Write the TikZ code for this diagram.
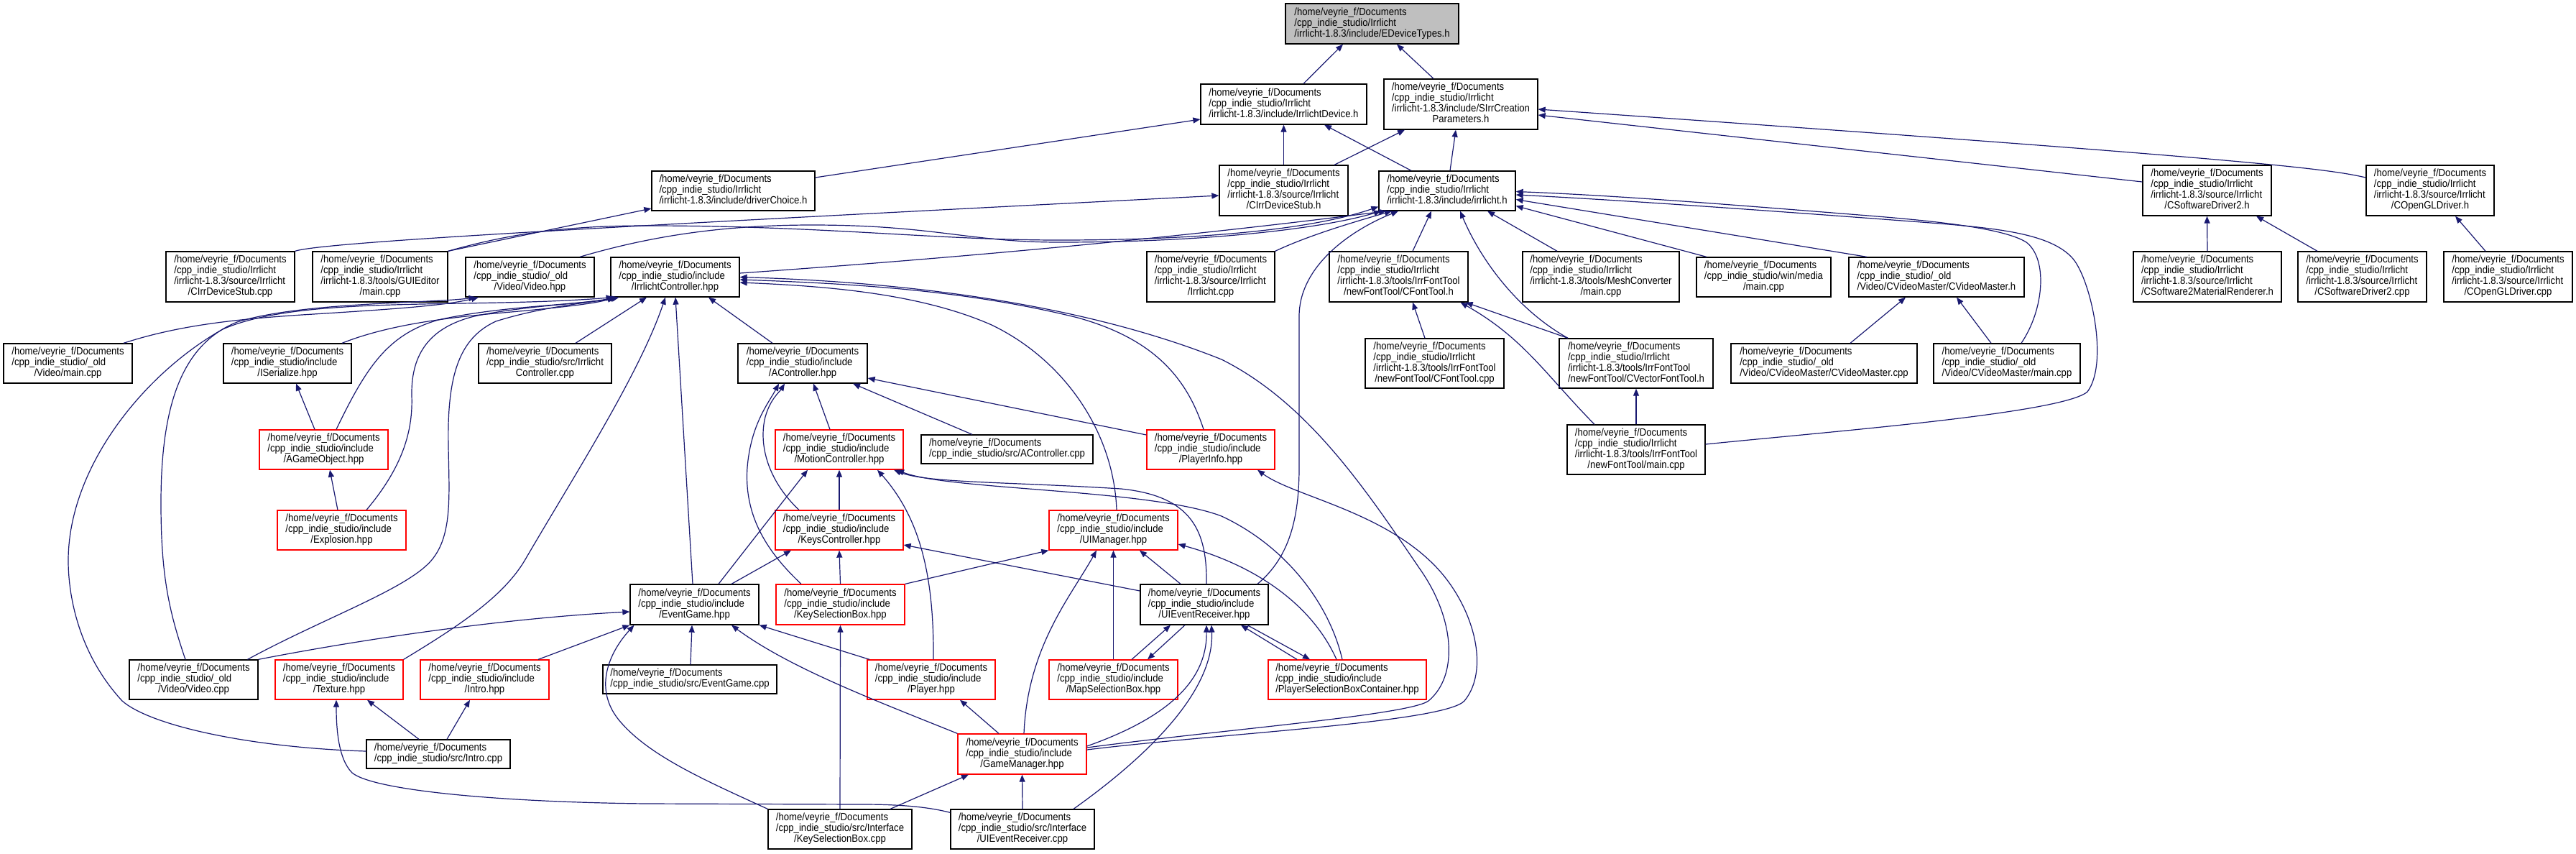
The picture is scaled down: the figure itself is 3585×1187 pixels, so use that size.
\documentclass[tikz,border=0pt]{standalone}
\usepackage{fontspec}
\newfontfamily\nodefont[FakeStretch=0.9]{Liberation Sans}
\usetikzlibrary{arrows.meta}
\definecolor{edgeblue}{RGB}{25,25,112}
\definecolor{boxgray}{RGB}{191,191,191}
\definecolor{boxred}{RGB}{255,0,0}
\newcommand\lnA{/home/veyrie\_f/Documents}
\newcommand\lnB{/cpp\_indie\_studio/Irrlicht}
\newcommand\lnC{/cpp\_indie\_studio/include}
\newcommand\lnD{/cpp\_indie\_studio/\_old}
\newcommand\Lt[1]{\begin{tabular}{@{}l@{}}#1\end{tabular}}
\newcommand\Lc[1]{\multicolumn{1}{@{}c@{}}{#1}}
\tikzset{
  fbox/.style={draw=black, line width=1.3pt, fill=white, inner sep=0pt, text=black, font=\nodefont\fontsize{14.6}{14.7}\selectfont},
  rbox/.style={fbox, draw=boxred},
  gbox/.style={fbox, fill=boxgray},
  sz/.style 2 args={minimum width=#1pt, minimum height=#2pt},
  edge/.style={draw=edgeblue, line width=1.2pt, -{Triangle[length=10pt,width=8pt]}},
}
\begin{document}
\begin{tikzpicture}[x=1pt,y=-1pt]
\useasboundingbox (0,0) rectangle (3585,1187);
% row 1-2
\node[gbox,sz={241}{56}] (n0) at (1909.5,33) {\Lt{\lnA\\\lnB\\/irrlicht-1.8.3/include/EDeviceTypes.h}};
\node[fbox,sz={231}{56}] (n1) at (1786.5,145) {\Lt{\lnA\\\lnB\\/irrlicht-1.8.3/include/IrrlichtDevice.h}};
\node[fbox,sz={214}{70}] (n2) at (2033,145) {\Lt{\lnA\\\lnB\\/irrlicht-1.8.3/include/SIrrCreation\\\Lc{Parameters.h}}};
% row 3
\node[fbox,sz={227}{55}] (n3) at (1020.5,265.5) {\Lt{\lnA\\\lnB\\/irrlicht-1.8.3/include/driverChoice.h}};
\node[fbox,sz={179}{70}] (n4) at (1786.5,265) {\Lt{\lnA\\\lnB\\/irrlicht-1.8.3/source/Irrlicht\\\Lc{/CIrrDeviceStub.h}}};
\node[fbox,sz={190}{55}] (n5) at (2014,265.5) {\Lt{\lnA\\\lnB\\/irrlicht-1.8.3/include/irrlicht.h}};
\node[fbox,sz={179}{70}] (n6) at (3071.5,265) {\Lt{\lnA\\\lnB\\/irrlicht-1.8.3/source/Irrlicht\\\Lc{/CSoftwareDriver2.h}}};
\node[fbox,sz={178}{70}] (n7) at (3382,265) {\Lt{\lnA\\\lnB\\/irrlicht-1.8.3/source/Irrlicht\\\Lc{/COpenGLDriver.h}}};
% row 4
\node[fbox,sz={179}{70}] (n8) at (320.5,385) {\Lt{\lnA\\\lnB\\/irrlicht-1.8.3/source/Irrlicht\\\Lc{/CIrrDeviceStub.cpp}}};
\node[fbox,sz={188}{70}] (n9) at (529,385) {\Lt{\lnA\\\lnB\\/irrlicht-1.8.3/tools/GUIEditor\\\Lc{/main.cpp}}};
\node[fbox,sz={179}{55}] (n10) at (737.5,385.5) {\Lt{\lnA\\\lnD\\\Lc{/Video/Video.hpp}}};
\node[fbox,sz={179}{55}] (n11) at (939.5,385.5) {\Lt{\lnA\\\lnC\\\Lc{/IrrlichtController.hpp}}};
\node[fbox,sz={178}{70}] (n12) at (1685,385) {\Lt{\lnA\\\lnB\\/irrlicht-1.8.3/source/Irrlicht\\\Lc{/Irrlicht.cpp}}};
\node[fbox,sz={193}{70}] (n13) at (1946.5,385) {\Lt{\lnA\\\lnB\\/irrlicht-1.8.3/tools/IrrFontTool\\\Lc{/newFontTool/CFontTool.h}}};
\node[fbox,sz={218}{70}] (n14) at (2228,385) {\Lt{\lnA\\\lnB\\/irrlicht-1.8.3/tools/MeshConverter\\\Lc{/main.cpp}}};
\node[fbox,sz={187}{55}] (n15) at (2454.5,385.5) {\Lt{\lnA\\/cpp\_indie\_studio/win/media\\\Lc{/main.cpp}}};
\node[fbox,sz={244}{55}] (n16) at (2695,385.5) {\Lt{\lnA\\\lnD\\/Video/CVideoMaster/CVideoMaster.h}};
\node[fbox,sz={206}{70}] (n17) at (3072,385) {\Lt{\lnA\\\lnB\\/irrlicht-1.8.3/source/Irrlicht\\\Lc{/CSoftware2MaterialRenderer.h}}};
\node[fbox,sz={179}{70}] (n18) at (3287.5,385) {\Lt{\lnA\\\lnB\\/irrlicht-1.8.3/source/Irrlicht\\\Lc{/CSoftwareDriver2.cpp}}};
\node[fbox,sz={179}{70}] (n19) at (3490.5,385) {\Lt{\lnA\\\lnB\\/irrlicht-1.8.3/source/Irrlicht\\\Lc{/COpenGLDriver.cpp}}};
% row 5
\node[fbox,sz={179}{55}] (n20) at (94.5,505.5) {\Lt{\lnA\\\lnD\\\Lc{/Video/main.cpp}}};
\node[fbox,sz={178}{55}] (n21) at (400,505.5) {\Lt{\lnA\\\lnC\\\Lc{/ISerialize.hpp}}};
\node[fbox,sz={185}{55}] (n22) at (758.5,505.5) {\Lt{\lnA\\/cpp\_indie\_studio/src/Irrlicht\\\Lc{Controller.cpp}}};
\node[fbox,sz={180}{55}] (n23) at (1117,505.5) {\Lt{\lnA\\\lnC\\\Lc{/AController.hpp}}};
\node[fbox,sz={193}{69}] (n24) at (1996.5,505.5) {\Lt{\lnA\\\lnB\\/irrlicht-1.8.3/tools/IrrFontTool\\\Lc{/newFontTool/CFontTool.cpp}}};
\node[fbox,sz={214}{69}] (n25) at (2277,505.5) {\Lt{\lnA\\\lnB\\/irrlicht-1.8.3/tools/IrrFontTool\\/newFontTool/CVectorFontTool.h}};
\node[fbox,sz={259}{55}] (n26) at (2538.5,505.5) {\Lt{\lnA\\\lnD\\/Video/CVideoMaster/CVideoMaster.cpp}};
\node[fbox,sz={204}{55}] (n27) at (2793,505.5) {\Lt{\lnA\\\lnD\\/Video/CVideoMaster/main.cpp}};
% row 6
\node[rbox,sz={179}{55}] (n28) at (450.5,625.5) {\Lt{\lnA\\\lnC\\\Lc{/AGameObject.hpp}}};
\node[rbox,sz={178}{55}] (n29) at (1168,625.5) {\Lt{\lnA\\\lnC\\\Lc{/MotionController.hpp}}};
\node[fbox,sz={239}{40}] (n30) at (1401.5,625) {\Lt{\lnA\\/cpp\_indie\_studio/src/AController.cpp}};
\node[rbox,sz={178}{55}] (n31) at (1685,625.5) {\Lt{\lnA\\\lnC\\\Lc{/PlayerInfo.hpp}}};
\node[fbox,sz={192}{69}] (n32) at (2277,625.5) {\Lt{\lnA\\\lnB\\/irrlicht-1.8.3/tools/IrrFontTool\\\Lc{/newFontTool/main.cpp}}};
% row 7
\node[rbox,sz={179}{55}] (n33) at (475.5,737.5) {\Lt{\lnA\\\lnC\\\Lc{/Explosion.hpp}}};
\node[rbox,sz={178}{55}] (n34) at (1168,737.5) {\Lt{\lnA\\\lnC\\\Lc{/KeysController.hpp}}};
\node[rbox,sz={179}{55}] (n35) at (1549.5,737.5) {\Lt{\lnA\\\lnC\\\Lc{/UIManager.hpp}}};
% row 8
\node[fbox,sz={179}{56}] (n36) at (966.5,841) {\Lt{\lnA\\\lnC\\\Lc{/EventGame.hpp}}};
\node[rbox,sz={179}{56}] (n37) at (1169.5,841) {\Lt{\lnA\\\lnC\\\Lc{/KeySelectionBox.hpp}}};
\node[fbox,sz={178}{56}] (n38) at (1676,841) {\Lt{\lnA\\\lnC\\\Lc{/UIEventReceiver.hpp}}};
% row 9
\node[fbox,sz={179}{55}] (n39) at (269.5,945.5) {\Lt{\lnA\\\lnD\\\Lc{/Video/Video.cpp}}};
\node[rbox,sz={178}{55}] (n40) at (472,945.5) {\Lt{\lnA\\\lnC\\\Lc{/Texture.hpp}}};
\node[rbox,sz={179}{55}] (n41) at (674.5,945.5) {\Lt{\lnA\\\lnC\\\Lc{/Intro.hpp}}};
\node[fbox,sz={242}{40}] (n42) at (960,945) {\Lt{\lnA\\/cpp\_indie\_studio/src/EventGame.cpp}};
\node[rbox,sz={178}{55}] (n43) at (1296,945.5) {\Lt{\lnA\\\lnC\\\Lc{/Player.hpp}}};
\node[rbox,sz={179}{55}] (n44) at (1549.5,945.5) {\Lt{\lnA\\\lnC\\\Lc{/MapSelectionBox.hpp}}};
\node[rbox,sz={220}{55}] (n45) at (1875,945.5) {\Lt{\lnA\\\lnC\\/PlayerSelectionBoxContainer.hpp}};
% row 10-11
\node[fbox,sz={200}{40}] (n46) at (610,1049) {\Lt{\lnA\\/cpp\_indie\_studio/src/Intro.cpp}};
\node[rbox,sz={179}{56}] (n47) at (1422.5,1049) {\Lt{\lnA\\\lnC\\\Lc{/GameManager.hpp}}};
\node[fbox,sz={200}{55}] (n48) at (1169,1153.5) {\Lt{\lnA\\/cpp\_indie\_studio/src/Interface\\\Lc{/KeySelectionBox.cpp}}};
\node[fbox,sz={200}{55}] (n49) at (1423,1153.5) {\Lt{\lnA\\/cpp\_indie\_studio/src/Interface\\\Lc{/UIEventReceiver.cpp}}};

% ---------------- edges (arrow at included file)
\draw[edge] ([xshift=27.5pt]n1.north) -- ([xshift=-40.5pt]n0.south);
\draw[edge] ([xshift=-38pt]n2.north) -- ([xshift=34.5pt]n0.south);
\draw[edge] ([yshift=18.5pt]n3.east) -- ([yshift=-21pt]n1.west);
\draw[edge] (n4.north) -- (n1.south);
\draw[edge] ([xshift=-50pt]n5.north) -- ([xshift=56.5pt]n1.south);
\draw[edge] ([xshift=70.5pt]n4.north) -- ([xshift=-78pt]n2.south);
\draw[edge] ([xshift=4pt]n5.north) -- ([xshift=-7pt]n2.south);
\draw[edge] ([yshift=12pt]n6.west) -- ([yshift=-15pt]n2.east);
\draw[edge] ([yshift=18pt]n7.west) .. controls (3240,235) and (3150,222) .. ([yshift=-7pt]n2.east);
\draw[edge] (n8.north east) .. controls (450,336) and (900,313) .. ([yshift=-7pt]n4.west);
\draw[edge] (n9.north east) -- ([yshift=-24.5pt]n3.west);
\draw[edge] (n9.north east) .. controls (720,322) and (800,314) .. (900,314) .. controls (1150,314) and (1300,334) .. (1474,334) .. controls (1680,334) and (1830,318) .. ([yshift=-22pt]n5.west);
\draw[edge] ([xshift=69.5pt]n10.north) .. controls (900,330) and (1000,313) .. (1130,313) .. controls (1300,313) and (1350,337) .. (1474,337) .. controls (1680,337) and (1840,318) .. ([xshift=-92pt]n5.south);
\draw[edge] ([yshift=5.5pt]n11.east) .. controls (1200,368) and (1550,342) .. ([xshift=-85pt]n5.south);
\draw[edge] (n12.north east) .. controls (1820,328) and (1880,310) .. ([xshift=-77pt]n5.south);
\draw[edge] ([xshift=74pt]n38.north) .. controls (1795,775) and (1808,720) .. (1808,650) -- (1808,440) .. controls (1808,370) and (1880,320) .. ([xshift=-68pt]n5.south);
\draw[edge] ([xshift=19.5pt]n13.north) -- ([xshift=-22pt]n5.south);
\draw[edge] ([xshift=-61pt]n14.north) -- ([xshift=56pt]n5.south);
\draw[edge] ([xshift=-95pt]n25.north) .. controls (2110,430) and (2060,360) .. ([xshift=18pt]n5.south);
\draw[edge] ([xshift=-79.5pt]n15.north) -- ([yshift=-21pt]n5.east);
\draw[edge] ([xshift=-97pt]n16.north) -- ([yshift=-12pt]n5.east);
\draw[edge] ([xshift=20pt]n27.north) .. controls (2845,430) and (2850,360) .. (2820,337) .. controls (2790,318) and (2700,308) .. (2600,300) .. controls (2400,284) and (2250,272) .. ([yshift=-1pt]n5.east);
\draw[edge] ([yshift=7.5pt]n32.east) .. controls (2550,600) and (2870,575) .. (2905,545) .. controls (2935,505) and (2910,390) .. (2885,360) .. controls (2855,325) and (2780,318) .. (2700,311) .. controls (2450,292) and (2250,278) .. ([yshift=-5.5pt]n5.east);
\draw[edge] (n17.north) -- (n6.south);
\draw[edge] ([xshift=-62.5pt]n18.north) -- ([xshift=68.5pt]n6.south);
\draw[edge] ([xshift=-31.5pt]n19.north) -- ([xshift=35pt]n7.south);
\draw[edge] ([xshift=-13.5pt]n24.north) -- ([xshift=19.5pt]n13.south);
\draw[edge] ([xshift=-95pt]n25.north) -- ([xshift=-4pt]n13.south east);
\draw[edge] ([xshift=-58pt]n32.north) .. controls (2150,520) and (2120,470) .. ([xshift=86pt]n13.south);
\draw[edge] (n32.north) -- (n25.south);
\draw[edge] ([xshift=36.5pt]n26.north) -- ([xshift=-43pt]n16.south);
\draw[edge] ([xshift=-22pt]n27.north) -- ([xshift=28pt]n16.south);
\draw[edge] ([xshift=77.5pt]n20.north) .. controls (250,452) and (330,444) .. (420,438) .. controls (550,430) and (620,425) .. ([xshift=-71.5pt]n10.south);
\draw[edge] ([xshift=76pt]n21.north) .. controls (540,452) and (620,442) .. (700,435) .. controls (780,428) and (830,422) .. ([xshift=-84.5pt]n11.south);
\draw[edge] ([xshift=42.5pt]n22.north) -- ([xshift=-39.5pt]n11.south);
\draw[edge] ([xshift=-12.5pt]n28.north) -- ([xshift=12pt]n21.south);
\draw[edge] ([xshift=17.5pt]n28.north) .. controls (510,510) and (540,465) .. (610,445) .. controls (700,425) and (800,425) .. ([xshift=-82pt]n11.south);
\draw[edge] ([xshift=-5.5pt]n33.north) -- ([xshift=8.5pt]n28.south);
\draw[edge] ([xshift=34.5pt]n33.north) .. controls (560,650) and (575,600) .. (573,550) .. controls (572,490) and (600,455) .. (660,440) .. controls (730,425) and (820,422) .. ([xshift=-80pt]n11.south);
\draw[edge] ([xshift=75pt]n39.north) .. controls (450,860) and (565,820) .. (600,780) .. controls (630,745) and (625,690) .. (624,620) .. controls (622,520) and (640,470) .. (690,447) .. controls (760,425) and (830,420) .. ([xshift=-78pt]n11.south);
\draw[edge] ([xshift=-11.5pt]n39.north) .. controls (235,850) and (224,800) .. (224,700) .. controls (224,570) and (250,480) .. (330,448) .. controls (420,420) and (600,422) .. ([xshift=-75pt]n10.south);
\draw[edge] ([yshift=4pt]n46.west) .. controls (350,1040) and (210,1010) .. (170,975) .. controls (110,910) and (95,830) .. (95,780) .. controls (95,650) and (200,520) .. (310,458) .. controls (420,410) and (650,430) .. ([xshift=-86pt]n11.south);
\draw[edge] (n39.north east) .. controls (500,890) and (700,860) .. ([yshift=-10pt]n36.west);
\draw[edge] ([xshift=74.5pt]n41.north) -- (n36.south west);
\draw[edge] (n48.north west) .. controls (980,1085) and (900,1050) .. (860,1000) .. controls (825,955) and (850,905) .. ([xshift=-84pt]n36.south);
\draw[edge] (n40.north east) .. controls (640,870) and (700,830) .. (730,780) .. controls (800,660) and (890,520) .. ([xshift=-13.5pt]n11.south);
\draw[edge] ([xshift=-2.5pt]n36.north) -- ([xshift=0.5pt]n11.south);
\draw[edge] ([xshift=-42pt]n23.north) -- ([xshift=46.5pt]n11.south);
\draw[edge] ([xshift=-13pt]n29.north) -- ([xshift=15pt]n23.south);
\draw[edge] ([xshift=-48.5pt]n30.north) -- ([xshift=70pt]n23.south);
\draw[edge] ([yshift=20.5pt]n31.west) -- ([yshift=-20.5pt]n23.east);
\draw[edge] ([xshift=-56pt]n34.north) .. controls (1070,670) and (1055,620) .. (1065,580) .. controls (1072,555) and (1085,545) .. ([xshift=-25pt]n23.south);
\draw[edge] ([xshift=-54.5pt]n37.north) .. controls (1070,770) and (1035,720) .. (1040,650) .. controls (1045,590) and (1070,560) .. ([xshift=-33pt]n23.south);
\draw[edge] ([xshift=33.5pt]n36.north) -- ([xshift=-44pt]n29.south);
\draw[edge] ([xshift=51.5pt]n36.north) -- ([xshift=-67pt]n34.south);
\draw[edge] (n37.north) -- (n34.south);
\draw[edge] (n34.north) -- (n29.south);
\draw[edge] ([xshift=3pt]n43.north) .. controls (1300,800) and (1280,720) .. ([xshift=53pt]n29.south);
\draw[edge] ([xshift=3pt]n38.north) .. controls (1680,740) and (1660,690) .. (1560,680) .. controls (1400,670) and (1290,672) .. ([xshift=76pt]n29.south);
\draw[edge] ([xshift=-7pt]n45.north) .. controls (1850,840) and (1790,760) .. (1700,718) .. controls (1600,680) and (1320,682) .. ([xshift=80pt]n29.south);
\draw[edge] ([xshift=4.5pt]n35.north) .. controls (1550,600) and (1480,500) .. (1380,452) .. controls (1280,408) and (1150,398) .. ([yshift=-7.5pt]n11.east);
\draw[edge] ([xshift=-10pt]n31.north) .. controls (1650,520) and (1600,470) .. (1500,442) .. controls (1350,405) and (1200,395) .. ([yshift=-3.5pt]n11.east);
\draw[edge] ([yshift=9pt]n47.east) .. controls (1700,1015) and (1960,995) .. (1988,975) .. controls (2030,940) and (2025,860) .. (1975,790) .. controls (1900,680) and (1820,560) .. (1700,500) .. controls (1500,420) and (1250,392) .. (n11.east);
\draw[edge] ([yshift=6pt]n47.east) .. controls (1700,1020) and (2010,1005) .. (2038,975) .. controls (2075,930) and (2050,840) .. (1995,785) .. controls (1920,710) and (1800,690) .. ([xshift=65pt]n31.south);
\draw[edge] (n47.north west) .. controls (1220,975) and (1100,930) .. ([xshift=51.5pt]n36.south);
\draw[edge] ([xshift=-86pt]n43.north) -- (n36.south east);
\draw[edge] ([xshift=-32.5pt]n47.north) -- ([xshift=40pt]n43.south);
\draw[edge] ([xshift=2.5pt]n47.north) .. controls (1430,900) and (1490,830) .. ([xshift=-23.5pt]n35.south);
\draw[edge] ([yshift=11pt]n47.east) .. controls (1620,1000) and (1680,950) .. ([xshift=3pt]n38.south);
\draw[edge] ([xshift=70pt]n48.north) -- ([xshift=-74.5pt]n47.south);
\draw[edge] (n49.north) -- (n47.south);
\draw[edge] (n48.north) -- (n37.south);
\draw[edge] ([xshift=71pt]n49.north) .. controls (1600,1050) and (1690,960) .. ([xshift=10pt]n38.south);
\draw[edge] ([yshift=-5pt]n49.north west) .. controls (1290,1122) and (1250,1119) .. (1200,1119) -- (900,1118) .. controls (700,1116) and (520,1100) .. (490,1075) .. controls (470,1055) and (468,1010) .. ([xshift=-4pt]n40.south);
\draw[edge] ([xshift=-27pt]n46.north) -- ([xshift=39pt]n40.south);
\draw[edge] ([xshift=12pt]n46.north) -- ([xshift=-20.5pt]n41.south);
\draw[edge] ([xshift=1pt]n42.north) -- ([xshift=-3.5pt]n36.south);
\draw[edge] (n37.north east) -- (n35.south west);
\draw[edge] ([yshift=19pt]n38.west) -- ([yshift=-20.5pt]n34.east);
\draw[edge] (n44.north) -- (n35.south);
\draw[edge] ([xshift=-33pt]n38.north) -- ([xshift=36.5pt]n35.south);
\draw[edge] ([xshift=-15pt]n45.north) .. controls (1830,850) and (1760,790) .. ([yshift=-19.5pt]n35.east);
\draw[edge] ([xshift=25.5pt]n44.north) -- ([xshift=-47pt]n38.south);
\draw[edge] ([xshift=-27pt]n38.south) -- ([xshift=47.5pt]n44.north);
\draw[edge] ([xshift=-70pt]n45.north) -- ([xshift=51pt]n38.south);
\draw[edge] ([xshift=60pt]n38.south) -- ([xshift=-52pt]n45.north);
\end{tikzpicture}
\end{document}
